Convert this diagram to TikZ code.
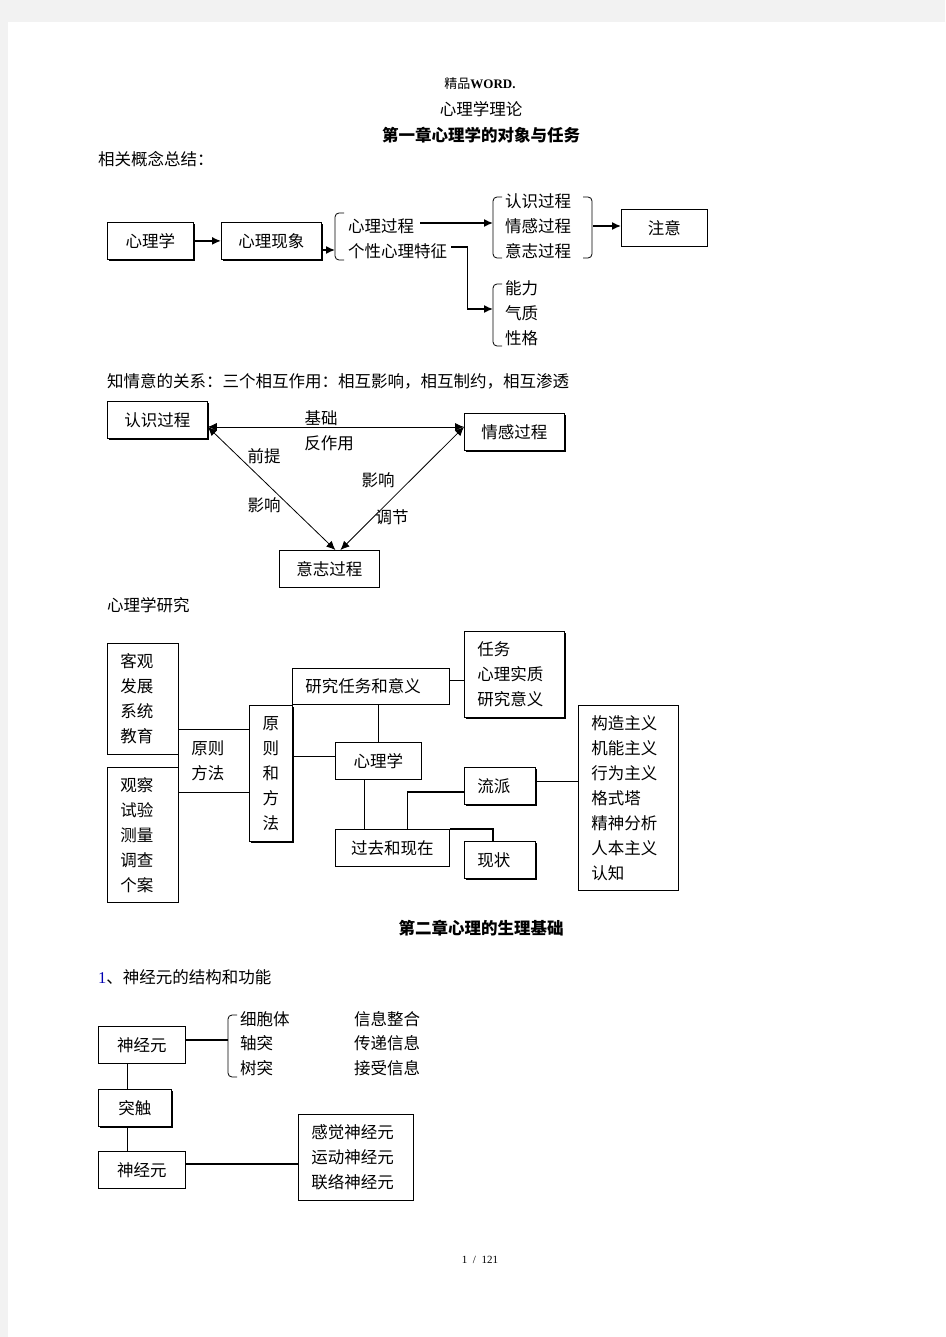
\documentclass[tikz,border=0pt]{standalone}
\usepackage{fontspec}
\setmainfont{Noto Sans CJK SC}
\newfontfamily\xifont{Liberation Serif}
\usepackage{tikz}
\usetikzlibrary{arrows.meta,positioning,calc,shadows}
\tikzset{kuang/.style={draw,line width=0.8pt,fill=white,inner sep=0pt,align=center}}
\tikzset{kuangy/.style={kuang,drop shadow={shadow xshift=1.4pt,shadow yshift=-1.4pt,fill=black,opacity=1}}}
\tikzset{hang/.style={align=left,inner xsep=13pt}}
\tikzset{wen/.style={anchor=west,inner sep=0pt}}
\tikzstyle{lian}=[line width=1.5pt]
\tikzstyle{xian}=[line width=0.8pt]
\newcommand{\zuokuo}[3]{\draw[xian,rounded corners=4pt] (#1+9,#2) -- (#1,#2) -- (#1,#3) -- (#1+9,#3);}
\newcommand{\youkuo}[3]{\draw[xian,rounded corners=4pt] (#1-9,#2) -- (#1,#2) -- (#1,#3) -- (#1-9,#3);}

\begin{document}
\begin{tikzpicture}[x=1pt,y=-1pt,>={Latex[length=9pt,width=8pt]},font=\fontsize{16.5}{25}\selectfont]
\useasboundingbox (0,0) rectangle (945,1337);
\fill[black!5] (0,0) rectangle (945,1337);
\fill[white] (8,22) rectangle (945,1337);

% titles
\node (bt1) at (480,84) {\fontsize{13}{14}\selectfont 精品{\xifont\bfseries WORD.}};
\node (bt2) at (481,109) {心理学理论};
\node[font=\fontsize{16.5}{25}\selectfont\bfseries] (bt3) at (481,135) {第一章心理学的对象与任务};
\node[wen] (zj) at (98,159) {相关概念总结：};

% 相关概念
\node[kuangy,minimum width=86pt,minimum height=37pt,anchor=north west] (xlx) at (107,222) {心理学};
\node[kuangy,minimum width=100pt,minimum height=37pt,anchor=north west] (xlxx) at (221,222) {心理现象};
\node[wen] (glc) at (348,226) {心理过程};
\node[wen] (gx) at (348,251) {个性心理特征};
\zuokuo{335}{213}{260}
\coordinate (k1) at (335,250);
\node[wen] (rs) at (505,201) {认识过程};
\node[wen] (qg1) at (505,226) {情感过程};
\node[wen] (yz1) at (505,251) {意志过程};
\zuokuo{493}{197}{258}
\youkuo{592}{197}{258}
\coordinate (k2) at (493,223);
\coordinate (k3) at (593,226);
\node[kuang,minimum width=86pt,minimum height=37pt,anchor=north west] (zy) at (621,209) {注意};
\node[wen] (nl) at (505,288) {能力};
\node[wen] (qz) at (505,313) {气质};
\node[wen] (xg) at (505,338) {性格};
\zuokuo{493}{284}{346}
\coordinate (k4) at (493,309);
\draw[lian,->] (xlx) -- (xlxx);
\draw[lian,->] (xlxx.east |- k1) -- (k1);
\draw[lian,->] ([xshift=6pt]glc.east |- k2) -- (k2);
\draw[lian,->] (k3) -- (k3 -| zy.west);
\draw[lian,->] ([xshift=4pt,yshift=-4pt]gx.north east) -- ++(16,0) |- (k4);

% 知情意
\node[wen] (zqy) at (107,381) {知情意的关系：三个相互作用：相互影响，相互制约，相互渗透};
\node[kuangy,minimum width=100pt,minimum height=37pt,anchor=north west] (rz) at (107,401) {认识过程};
\node[kuangy,minimum width=100pt,minimum height=37pt,anchor=north west] (qg) at (464,413) {情感过程};
\node[kuang,minimum width=100pt,minimum height=37pt,anchor=north west] (yz) at (279,550) {意志过程};
\coordinate (dz) at ([yshift=-7pt]rz.east);
\coordinate (dy) at ([yshift=5pt]qg.west);
\coordinate (dx1) at ([xshift=6pt]yz.north);
\coordinate (dx2) at ([xshift=11pt]yz.north);
\draw[xian,<->] (dz) -- (dy);
\draw[xian,<->] (dz) -- (dx1);
\draw[xian,<->] (dy) -- (dx2);
\node (jc) at (321,418) {基础};
\node (fzy) at (329,443) {反作用};
\node (qt) at (264,456) {前提};
\node (yx1) at (264,505) {影响};
\node (yx2) at (378,480) {影响};
\node (tj) at (392,517) {调节};

% 心理学研究
\node[wen] (xlyj) at (107,605) {心理学研究};
\node[kuang,hang,text width=45pt,minimum height=111pt,anchor=north west] (kg) at (107,643) {客观\\发展\\系统\\教育};
\node[kuang,hang,text width=45pt,minimum height=135pt,anchor=north west] (gc) at (107,767) {观察\\试验\\测量\\调查\\个案};
\node[kuang,hang,text width=45pt,minimum height=63pt,anchor=north west] (yzff) at (178,729) {原则\\方法};
\node[kuangy,minimum width=43pt,minimum height=136pt,anchor=north west] (yzhff) at (249,705) {原\\则\\和\\方\\法};
\node[kuang,hang,text width=131pt,minimum height=36pt,anchor=north west] (yjrw) at (292,668) {研究任务和意义};
\node[kuangy,hang,text width=74pt,minimum height=86pt,anchor=north west] (rw) at (464,631) {任务\\心理实质\\研究意义};
\node[kuang,minimum width=86pt,minimum height=37pt,anchor=north west] (xlx2) at (335,742) {心理学};
\node[kuang,minimum width=114pt,minimum height=37pt,anchor=north west] (gq) at (335,829) {过去和现在};
\node[kuangy,hang,text width=45pt,minimum height=37pt,anchor=north west] (lp) at (464,767) {流派};
\node[kuangy,hang,text width=45pt,minimum height=37pt,anchor=north west] (xz) at (464,841) {现状};
\node[kuang,hang,text width=74pt,minimum height=185pt,anchor=north west] (gz) at (578,705) {构造主义\\机能主义\\行为主义\\格式塔\\精神分析\\人本主义\\认知};
\draw[lian] (xlx2.north) -- (xlx2.north |- yjrw.south);
\draw[xian] ([yshift=5pt]xlx2.west) -- ([yshift=5pt]xlx2.west -| yzhff.east);
\draw[xian] ([yshift=6pt]yjrw.east) -- ([yshift=6pt]yjrw.east -| rw.west);
\draw[xian] ([xshift=-14pt]xlx2.south) -- ([xshift=-14pt]xlx2.south |- gq.north);
\draw[lian] ([yshift=-6pt]lp.west) -| ([xshift=15pt]gq.north);
\draw[lian] (gq.north east) -| ([xshift=-7pt]xz.north);
\draw[xian] ([yshift=5pt]lp.east) -- ([yshift=5pt]lp.east -| gz.west);

% 第二章
\node[font=\fontsize{16.5}{25}\selectfont\bfseries] (bt4) at (481,928) {第二章心理的生理基础};
\node[wen] (sjgn) at (98,977) {{\xifont\color{blue!70!black}1}、神经元的结构和功能};
\node[kuang,minimum width=87pt,minimum height=37pt,anchor=north west] (sjy) at (98,1026) {神经元};
\node[kuangy,minimum width=73pt,minimum height=37pt,anchor=north west] (tc) at (98,1089) {突触};
\node[kuang,minimum width=87pt,minimum height=37pt,anchor=north west] (sjy2) at (98,1151) {神经元};
\node[kuang,hang,text width=89pt,minimum height=86pt,anchor=north west] (gj) at (298,1114) {感觉神经元\\运动神经元\\联络神经元};
\zuokuo{228}{1015}{1077}
\coordinate (k5) at (228,1040);
\node[wen] (xbt) at (240,1019) {细胞体};
\node[wen] (zt) at (240,1043) {轴突};
\node[wen] (st) at (240,1068) {树突};
\node[wen] (xxzh) at (354,1019) {信息整合};
\node[wen] (cdxx) at (354,1043) {传递信息};
\node[wen] (jsxx) at (354,1068) {接受信息};
\draw[lian] (sjy.east |- k5) -- (k5);
\draw[xian] ([xshift=29pt]sjy.south west) -- ([xshift=29pt]tc.north west);
\draw[xian] ([xshift=29pt]tc.south west) -- ([xshift=29pt]sjy2.north west);
\draw[lian] ([yshift=6pt]sjy2.east) -- ([yshift=6pt]sjy2.east -| gj.west);

% 页码
\node (ym) at (480,1260) {\xifont\fontsize{11}{12}\selectfont 1\ \ /\ \ 121};
\end{tikzpicture}
\end{document}
